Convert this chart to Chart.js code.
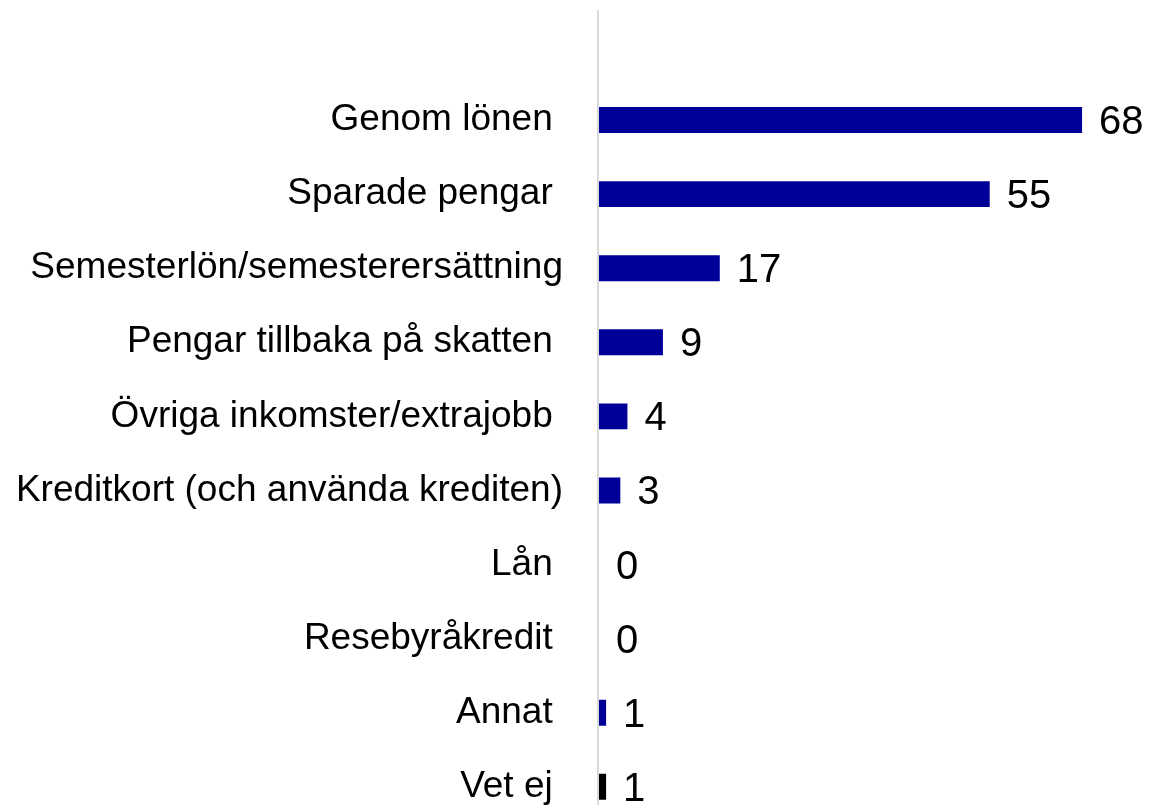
<!DOCTYPE html>
<html>
<head>
<meta charset="utf-8">
<script src="https://cdn.jsdelivr.net/npm/chart.js@4"></script>
<style>
  html, body { margin: 0; padding: 0; background: #fff; overflow: hidden; }
  #wrap { position: relative; width: 1149px; height: 882px; }
</style>
</head>
<body>
<div id="wrap"><canvas id="chart"></canvas></div>
<script>
// Data (most labels carry a trailing space, as in the source)
const categories = [
    'Genom lönen ',
    'Sparade pengar ',
    'Semesterlön/semesterersättning',
    'Pengar tillbaka på skatten ',
    'Övriga inkomster/extrajobb ',
    'Kreditkort (och använda krediten)',
    'Lån ',
    'Resebyråkredit ',
    'Annat ',
    'Vet ej '
];
const values = [68, 55, 17, 9, 4, 3, 0, 0, 1, 1];
const barColors = ['#000099', '#000099', '#000099', '#000099', '#000099',
                   '#000099', '#000099', '#000099', '#000099', '#000000'];

// Value labels next to each bar
const valueLabels = {
    id: 'valueLabels',
    afterDatasetsDraw(chart) {
        const ctx = chart.ctx;
        const meta = chart.getDatasetMeta(0);
        ctx.save();
        ctx.font = '40px "Liberation Sans", Arial, sans-serif';
        ctx.fillStyle = '#000';
        ctx.textAlign = 'left';
        ctx.textBaseline = 'middle';
        meta.data.forEach((bar, i) => {
            ctx.fillText(String(values[i]), bar.x + 17, bar.y + 3);
        });
        ctx.restore();
    }
};

// Light grey axis line, reaching up above the first category
const axisLine = {
    id: 'axisLine',
    beforeDatasetsDraw(chart) {
        const ctx = chart.ctx;
        const x = chart.scales.x.getPixelForValue(0) - 1;
        ctx.save();
        ctx.strokeStyle = '#d9d9d9';
        ctx.lineWidth = 2;
        ctx.beginPath();
        ctx.moveTo(x, 10);
        ctx.lineTo(x, chart.chartArea.bottom);
        ctx.stroke();
        ctx.restore();
    }
};

const ctx = document.getElementById('chart').getContext('2d');
const chart = new Chart(ctx, {
    type: 'bar',
    data: {
        labels: categories,
        datasets: [{
            data: values,
            backgroundColor: barColors,
            borderWidth: 0,
            barPercentage: 0.35,
            categoryPercentage: 1
        }]
    },
    options: {
        indexAxis: 'y',
        responsive: true,
        maintainAspectRatio: false,
        animation: false,
        layout: { padding: { top: 83, bottom: 18, right: 3, left: 0 } },
        plugins: {
            legend: { display: false },
            tooltip: { enabled: false }
        },
        scales: {
            x: {
                display: false,
                min: 0,
                max: 77,
                grid: { display: false }
            },
            y: {
                grid: { display: false, drawTicks: false },
                border: { display: false },
                ticks: {
                    color: '#000',
                    padding: 36,
                    font: { family: '"Liberation Sans", Arial, sans-serif', size: 37 }
                },
                afterFit(scale) { scale.width = 599; }
            }
        }
    },
    plugins: [axisLine, valueLabels]
});
</script>
</body>
</html>
